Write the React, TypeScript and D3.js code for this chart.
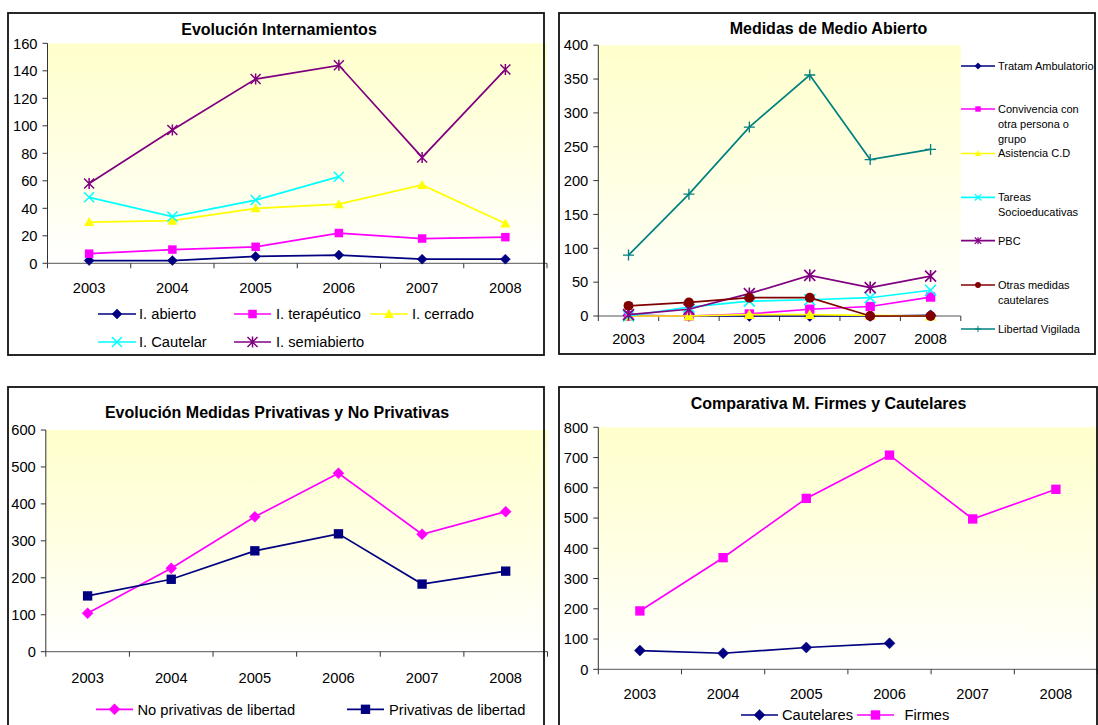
import React from "react";
import * as d3 from "d3";

// ---------- DATA ----------
const years = ["2003", "2004", "2005", "2006", "2007", "2008"];

// Panel 1: Evolución Internamientos
const internAbierto = [2, 2, 5, 6, 3, 3];
const internTerapeutico = [7, 10, 12, 22, 18, 19];
const internCerrado = [30, 31, 40, 43, 57, 29];
const internCautelar: (number | null)[] = [48, 34, 46, 63, null, null];
const internSemiabierto = [58, 97, 134, 144, 77, 141];
const internTicks = [0, 20, 40, 60, 80, 100, 120, 140, 160];

// Panel 2: Medidas de Medio Abierto
const tratamAmbulatorio = [1, 0, 0, 0, 0, 1];
const convivencia = [0, 0, 3, 10, 14, 28];
const asistenciaCD = [0, 0, 2, 2, 1, 0];
const tareasSocio = [0, 13, 22, 24, 27, 38];
const pbc = [2, 10, 33, 60, 42, 59];
const otrasCautelares = [15, 20, 27, 27, 0, 0];
const libertadVigilada = [90, 180, 279, 356, 231, 246];
const abiertoTicks = [0, 50, 100, 150, 200, 250, 300, 350, 400];

// Panel 3: Evolución Medidas Privativas y No Privativas
const noPrivativas = [104, 226, 365, 483, 318, 379];
const privativas = [151, 196, 273, 319, 183, 218];
const privTicks = [0, 100, 200, 300, 400, 500, 600];

// Panel 4: Comparativa M. Firmes y Cautelares
const cautelares: (number | null)[] = [62, 53, 72, 86, null, null];
const firmes = [193, 369, 565, 708, 497, 595];
const firmesTicks = [0, 100, 200, 300, 400, 500, 600, 700, 800];

// ---------- STYLE ----------
const FONT = '"Liberation Sans", Arial, Helvetica, sans-serif';
const NAVY = "#000080";
const MAGENTA = "#FF00FF";
const YELLOW = "#FFFF00";
const CYAN = "#00FFFF";
const PURPLE = "#800080";
const DARKRED = "#800000";
const TEAL = "#008080";

type Series = {
  name: string[];
  values: (number | null)[];
  color: string;
  marker: string;
};

type LegendPos = { x1: number; x2: number; tx: number; y: number };

type PanelCfg = {
  title: string;
  titleX: number;
  titleY: number;
  border: { x: number; y: number; w: number; h: number };
  plot: { l: number; r: number; t: number; b: number };
  ticks: number[];
  xLabelY: number;
  series: Series[];
  legend: LegendPos[];
  legendFont: number;
  legendLineGap?: number;
  markerR: number;
  legendMarkerR: number;
};

function Marker({ type, cx, cy, r, color }: { type: string; cx: number; cy: number; r: number; color: string }) {
  const sw = Math.max(1.2, r * 0.3);
  switch (type) {
    case "diamond":
      return <path d={`M${cx},${cy - r}L${cx + r},${cy}L${cx},${cy + r}L${cx - r},${cy}Z`} fill={color} stroke={color} strokeWidth={0.5} />;
    case "square":
      return <rect x={cx - r * 0.85} y={cy - r * 0.85} width={r * 1.7} height={r * 1.7} fill={color} />;
    case "triangle":
      return <path d={`M${cx},${cy - r}L${cx + r},${cy + r * 0.8}L${cx - r},${cy + r * 0.8}Z`} fill={color} />;
    case "x":
      return (
        <path d={`M${cx - r},${cy - r}L${cx + r},${cy + r}M${cx - r},${cy + r}L${cx + r},${cy - r}`} stroke={color} strokeWidth={sw} fill="none" />
      );
    case "asterisk":
      return (
        <path
          d={`M${cx - r},${cy - r}L${cx + r},${cy + r}M${cx - r},${cy + r}L${cx + r},${cy - r}M${cx},${cy - r * 1.1}L${cx},${cy + r * 1.1}`}
          stroke={color}
          strokeWidth={sw}
          fill="none"
        />
      );
    case "circle":
      return <circle cx={cx} cy={cy} r={r * 0.9} fill={color} />;
    case "plus":
      return <path d={`M${cx - r},${cy}L${cx + r},${cy}M${cx},${cy - r}L${cx},${cy + r}`} stroke={color} strokeWidth={sw * 0.8} fill="none" />;
    default:
      return null;
  }
}

function Panel({ cfg, gid }: { cfg: PanelCfg; gid: string }) {
  const { plot } = cfg;
  const x = d3.scaleBand<string>().domain(years).range([plot.l, plot.r]).padding(0);
  const y = d3.scaleLinear().domain([0, cfg.ticks[cfg.ticks.length - 1]]).range([plot.b, plot.t]);
  const cxOf = (i: number) => (x(years[i]) as number) + x.bandwidth() / 2;
  const line = d3
    .line<number | null>()
    .defined((v) => v != null)
    .x((_, i) => cxOf(i))
    .y((v) => y(v as number));
  const boundaries = years.map((yr) => x(yr) as number).concat([plot.r]);
  const gap = cfg.legendLineGap ?? 15;

  return (
    <g fontFamily={FONT}>
      <rect x={plot.l} y={plot.t} width={plot.r - plot.l} height={plot.b - plot.t} fill={`url(#${gid})`} />
      {/* axes */}
      <line x1={plot.l} x2={plot.l} y1={plot.t} y2={plot.b} stroke="#333" strokeWidth={1} />
      <line x1={plot.l} x2={plot.r} y1={plot.b} y2={plot.b} stroke="#555" strokeWidth={1} />
      {cfg.ticks.map((t) => (
        <g key={t}>
          <line x1={plot.l - 5} x2={plot.l} y1={y(t)} y2={y(t)} stroke="#333" />
          <text x={plot.l - 10} y={y(t)} dy="0.36em" textAnchor="end" fontSize={14.7} fill="#000">
            {t}
          </text>
        </g>
      ))}
      {boundaries.map((bx, i) => (
        <line key={i} x1={bx} x2={bx} y1={plot.b} y2={plot.b + 5} stroke="#333" />
      ))}
      {years.map((yr, i) => (
        <text key={yr} x={cxOf(i)} y={cfg.xLabelY} dy="0.36em" textAnchor="middle" fontSize={14.7} fill="#000">
          {yr}
        </text>
      ))}
      {/* series */}
      {cfg.series.map((s, si) => (
        <g key={si}>
          <path d={line(s.values) || ""} fill="none" stroke={s.color} strokeWidth={1.7} />
          {s.values.map((v, i) =>
            v == null ? null : <Marker key={i} type={s.marker} cx={cxOf(i)} cy={y(v)} r={cfg.markerR} color={s.color} />
          )}
        </g>
      ))}
      {/* title */}
      <text x={cfg.titleX} y={cfg.titleY} dy="0.36em" textAnchor="middle" fontSize={16} fontWeight="bold" fill="#000">
        {cfg.title}
      </text>
      {/* legend */}
      {cfg.series.map((s, si) => {
        const p = cfg.legend[si];
        return (
          <g key={si}>
            <line x1={p.x1} x2={p.x2} y1={p.y} y2={p.y} stroke={s.color} strokeWidth={1.7} />
            <Marker type={s.marker} cx={(p.x1 + p.x2) / 2} cy={p.y} r={cfg.legendMarkerR} color={s.color} />
            <text x={p.tx} y={p.y} dy="0.36em" fontSize={cfg.legendFont} fill="#000">
              {s.name.map((ln, li) => (
                <tspan key={li} x={p.tx} dy={li === 0 ? "0.36em" : gap}>
                  {ln}
                </tspan>
              ))}
            </text>
          </g>
        );
      })}
      <rect x={cfg.border.x} y={cfg.border.y} width={cfg.border.w} height={cfg.border.h} fill="none" stroke="#111" strokeWidth={1.8} />
    </g>
  );
}

const panel1: PanelCfg = {
  title: "Evolución Internamientos",
  titleX: 279,
  titleY: 29.5,
  border: { x: 8, y: 13, w: 536, h: 342 },
  plot: { l: 47.5, r: 547, t: 43.3, b: 263.3 },
  ticks: internTicks,
  xLabelY: 287.6,
  series: [
    { name: ["I. abierto"], values: internAbierto, color: NAVY, marker: "diamond" },
    { name: ["I. terapéutico"], values: internTerapeutico, color: MAGENTA, marker: "square" },
    { name: ["I. cerrado"], values: internCerrado, color: YELLOW, marker: "triangle" },
    { name: ["I. Cautelar"], values: internCautelar, color: CYAN, marker: "x" },
    { name: ["I. semiabierto"], values: internSemiabierto, color: PURPLE, marker: "asterisk" },
  ],
  legend: [
    { x1: 98, x2: 136, tx: 139, y: 314 },
    { x1: 234, x2: 271, tx: 276, y: 314 },
    { x1: 370, x2: 408, tx: 412, y: 314 },
    { x1: 98, x2: 136, tx: 139, y: 342 },
    { x1: 234, x2: 271, tx: 276, y: 342 },
  ],
  legendFont: 14.7,
  markerR: 5,
  legendMarkerR: 5,
};

const panel2: PanelCfg = {
  title: "Medidas de Medio Abierto",
  titleX: 828.5,
  titleY: 28.3,
  border: { x: 559, y: 13, w: 536, h: 341 },
  plot: { l: 598.3, r: 960.8, t: 45.2, b: 316 },
  ticks: abiertoTicks,
  xLabelY: 338.3,
  series: [
    { name: ["Tratam Ambulatorio"], values: tratamAmbulatorio, color: NAVY, marker: "diamond" },
    { name: ["Convivencia con", "otra persona o", "grupo"], values: convivencia, color: MAGENTA, marker: "square" },
    { name: ["Asistencia C.D"], values: asistenciaCD, color: YELLOW, marker: "triangle" },
    { name: ["Tareas", "Socioeducativas"], values: tareasSocio, color: CYAN, marker: "x" },
    { name: ["PBC"], values: pbc, color: PURPLE, marker: "asterisk" },
    { name: ["Otras medidas", "cautelares"], values: otrasCautelares, color: DARKRED, marker: "circle" },
    { name: ["Libertad Vigilada"], values: libertadVigilada, color: TEAL, marker: "plus" },
  ],
  legend: [
    { x1: 961, x2: 995, tx: 998, y: 66 },
    { x1: 961, x2: 995, tx: 998, y: 109 },
    { x1: 961, x2: 995, tx: 998, y: 153.5 },
    { x1: 961, x2: 995, tx: 998, y: 197.3 },
    { x1: 961, x2: 995, tx: 998, y: 240.7 },
    { x1: 961, x2: 995, tx: 998, y: 285 },
    { x1: 961, x2: 995, tx: 998, y: 329 },
  ],
  legendFont: 11,
  legendLineGap: 15,
  markerR: 5.5,
  legendMarkerR: 3.2,
};

const panel3: PanelCfg = {
  title: "Evolución Medidas Privativas y No Privativas",
  titleX: 277,
  titleY: 412.3,
  border: { x: 8, y: 387, w: 536, h: 400 },
  plot: { l: 45.8, r: 547.5, t: 430, b: 651.7 },
  ticks: privTicks,
  xLabelY: 677.7,
  series: [
    { name: ["No privativas de libertad"], values: noPrivativas, color: MAGENTA, marker: "diamond" },
    { name: ["Privativas de libertad"], values: privativas, color: NAVY, marker: "square" },
  ],
  legend: [
    { x1: 96, x2: 133, tx: 137.5, y: 709.3 },
    { x1: 347, x2: 384, tx: 389, y: 709.3 },
  ],
  legendFont: 14.7,
  markerR: 5.5,
  legendMarkerR: 5.5,
};

const panel4: PanelCfg = {
  title: "Comparativa M. Firmes y Cautelares",
  titleX: 828.5,
  titleY: 403.3,
  border: { x: 559, y: 387, w: 538, h: 400 },
  plot: { l: 598.3, r: 1097.5, t: 427.3, b: 669.3 },
  ticks: firmesTicks,
  xLabelY: 693.3,
  series: [
    { name: ["Cautelares"], values: cautelares, color: NAVY, marker: "diamond" },
    { name: ["Firmes"], values: firmes, color: MAGENTA, marker: "square" },
  ],
  legend: [
    { x1: 741, x2: 778, tx: 782, y: 715 },
    { x1: 857, x2: 894, tx: 904.5, y: 715 },
  ],
  legendFont: 14.7,
  markerR: 5.5,
  legendMarkerR: 5.5,
};

export default function App() {
  return (
    <svg
      width={1098}
      height={725}
      viewBox="0 0 1098 725"
      style={{ position: "absolute", left: 0, top: 0, background: "#fff" }}
    >
      <defs>
        <linearGradient id="plotGrad" x1="0" y1="0" x2="0" y2="1">
          <stop offset="0" stopColor="#FFFFCC" />
          <stop offset="0.55" stopColor="#FFFFE6" />
          <stop offset="1" stopColor="#FFFFFF" />
        </linearGradient>
      </defs>
      <rect x={0} y={0} width={1098} height={725} fill="#fff" />
      <Panel cfg={panel1} gid="plotGrad" />
      <Panel cfg={panel2} gid="plotGrad" />
      <Panel cfg={panel3} gid="plotGrad" />
      <Panel cfg={panel4} gid="plotGrad" />
    </svg>
  );
}
